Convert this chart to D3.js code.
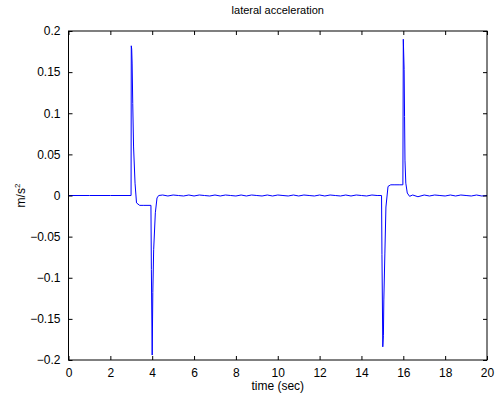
<!DOCTYPE html>
<html>
<head>
<meta charset="utf-8">
<script src="https://cdn.jsdelivr.net/npm/d3@7"></script>
<style>
body{margin:0;background:#fff;}
svg text{font-family:"Liberation Sans",Arial,sans-serif;fill:#000;}
.tick text{font-size:12px;}
</style>
</head>
<body>
<div id="grafico"></div>
<script>
// time (sec) and lateral acceleration (m/s^2)
const time = [0, 1, 2, 2.99, 3.0, 3.02, 3.04, 3.07, 3.11, 3.18, 3.25, 3.4, 3.6, 3.8, 3.94, 3.96, 4.0, 4.03, 4.07, 4.15, 4.23, 4.31,
  4.5, 4.75, 5.0, 5.25, 5.5, 5.75, 6.0, 6.25, 6.5, 6.75, 7.0, 7.25, 7.5, 7.75, 8.0, 8.25, 8.5, 8.75, 9.0, 9.25, 9.5, 9.75,
  10.0, 10.25, 10.5, 10.75, 11.0, 11.25, 11.5, 11.75, 12.0, 12.25, 12.5, 12.75, 13.0, 13.25, 13.5, 13.75, 14.0, 14.25, 14.5, 14.75, 14.96,
  14.98, 15.02, 15.05, 15.07, 15.12, 15.17, 15.27, 15.4, 15.6, 15.8, 15.98, 16.0, 16.04, 16.06, 16.08, 16.12, 16.19, 16.3, 16.45,
  16.7, 17.0, 17.25, 17.5, 17.75, 18.0, 18.25, 18.5, 18.75, 19.0, 19.25, 19.5, 19.75, 20.0];
const accel = [0, 0, 0, 0, 0.182, 0.178, 0.161, 0.112, 0.059, 0.015, -0.009, -0.012, -0.012, -0.012, -0.012, -0.09, -0.194, -0.118, -0.066, -0.021, -0.003, 0,
  0.0006, -0.0006, 0.0006, 0, -0.0006, 0.0006, -0.0006, 0.0006, 0, -0.0006, 0.0006, -0.0006, 0.0006, 0, -0.0006, 0.0006, -0.0006, 0.0006, 0, -0.0006, 0.0006, -0.0006,
  0.0006, 0, -0.0006, 0.0006, -0.0006, 0.0006, 0, -0.0006, 0.0006, -0.0006, 0.0006, 0, -0.0006, 0.0006, -0.0006, 0.0006, 0, -0.0006, 0.0006, 0, 0,
  -0.072, -0.184, -0.17, -0.127, -0.07, -0.014, 0.011, 0.013, 0.013, 0.013, 0.013, 0.19, 0.153, 0.096, 0.043, 0.015, 0.003, -0.001, 0.0006,
  -0.0015, 0.0006, -0.0006, 0.0006, 0, -0.0006, 0.0006, -0.0006, 0.0006, 0, -0.0006, 0.0006, -0.0006, 0];
const xTicks = [0, 2, 4, 6, 8, 10, 12, 14, 16, 18, 20];
const yTicks = [-0.2, -0.15, -0.1, -0.05, 0, 0.05, 0.1, 0.15, 0.2];

const margin = {top: 31, right: 10, bottom: 37, left: 68.5};
const width = 497 - margin.left - margin.right;
const height = 397 - margin.top - margin.bottom;

let svg = d3.select("#grafico")
  .append("svg")
    .attr("width", 497)
    .attr("height", 397)
  .append("g")
    .attr("transform", `translate(${margin.left},${margin.top})`);

let x = d3.scaleLinear().domain([0, 20]).range([0, width]);
let y = d3.scaleLinear().domain([-0.2, 0.2]).range([height, 0]);

// the data line
let line = d3.line().x((d, i) => x(time[i])).y(d => y(d));
svg.append("path")
  .datum(accel)
  .attr("fill", "none")
  .attr("stroke", "#0000ff")
  .attr("stroke-width", 1)
  .attr("d", line);

// axes, ticks point inwards on all four sides
const fmt = d => d3.format("")(+d.toFixed(2));
let styleAxis = g => {
  g.select(".domain").remove();
  g.selectAll(".tick line").attr("stroke", "#000");
};
svg.append("g")
  .attr("transform", `translate(0,${height})`)
  .call(d3.axisBottom(x).tickValues(xTicks).tickSizeInner(-4).tickSizeOuter(0).tickPadding(8).tickFormat(fmt))
  .call(styleAxis);
svg.append("g")
  .call(d3.axisTop(x).tickValues(xTicks).tickSizeInner(-4).tickSizeOuter(0).tickFormat(""))
  .call(styleAxis);
svg.append("g")
  .call(d3.axisLeft(y).tickValues(yTicks).tickSizeInner(-4).tickSizeOuter(0).tickPadding(8).tickFormat(fmt))
  .call(styleAxis);
svg.append("g")
  .attr("transform", `translate(${width},0)`)
  .call(d3.axisRight(y).tickValues(yTicks).tickSizeInner(-4).tickSizeOuter(0).tickFormat(""))
  .call(styleAxis);

svg.append("rect")
  .attr("width", width)
  .attr("height", height)
  .attr("fill", "none")
  .attr("stroke", "#000")
  .attr("stroke-width", 1);

// titles
svg.append("text")
  .attr("x", width / 2)
  .attr("y", -17)
  .attr("text-anchor", "middle")
  .attr("font-size", "11px")
  .text("lateral acceleration");

svg.append("text")
  .attr("x", width / 2)
  .attr("y", height + 30)
  .attr("text-anchor", "middle")
  .attr("font-size", "12px")
  .text("time (sec)");

let yl = svg.append("text")
  .attr("transform", `translate(-44,${height / 2}) rotate(-90)`)
  .attr("text-anchor", "middle")
  .attr("font-size", "12px");
yl.append("tspan").text("m/s");
yl.append("tspan").attr("font-size", "8px").attr("dy", "-5").text("2");
</script>
</body>
</html>
